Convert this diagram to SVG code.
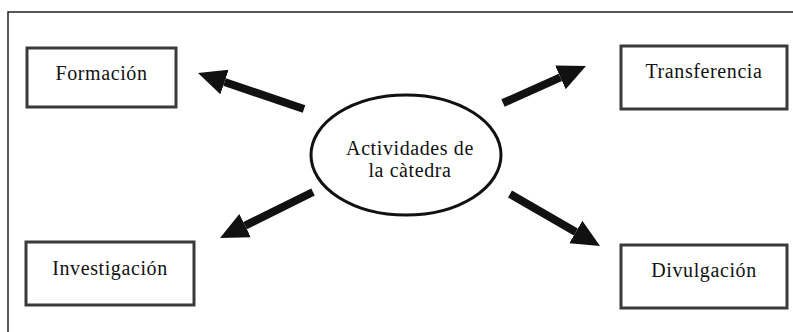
<svg xmlns="http://www.w3.org/2000/svg" width="793" height="332" viewBox="0 0 793 332">
<style>
  .box { fill: #ffffff; stroke: #3a3a3a; stroke-width: 3; }
  .lbl { font-family: "Liberation Serif", "Times New Roman", serif; font-size: 20px; letter-spacing: 0.6px; fill: #111; text-anchor: middle; }
  .arrow { stroke: #111; stroke-width: 8; fill: none; marker-end: url(#head); }
</style>
<defs>
  <marker id="head" markerUnits="userSpaceOnUse" viewBox="0 0 28 28" markerWidth="28" markerHeight="28" refX="0" refY="14" orient="auto">
    <path d="M0,1 L28,14 L0,27 z" fill="#111"/>
  </marker>
</defs>
<rect width="793" height="332" fill="#ffffff"/>
<path d="M8,332 V12 H793" fill="none" stroke="#222" stroke-width="1.5"/>

<g id="formacion">
  <rect class="box" x="27" y="48" width="149" height="59"/>
  <text class="lbl" x="101.5" y="80">Formación</text>
</g>
<g id="transferencia">
  <rect class="box" x="621" y="46" width="166" height="63"/>
  <text class="lbl" x="704" y="78">Transferencia</text>
</g>
<g id="investigacion">
  <rect class="box" x="26" y="242" width="168" height="63"/>
  <text class="lbl" x="110" y="275">Investigación</text>
</g>
<g id="divulgacion">
  <rect class="box" x="621" y="245" width="166" height="63"/>
  <text class="lbl" x="704" y="277">Divulgación</text>
</g>
<g id="actividades">
  <ellipse cx="406" cy="155" rx="95" ry="60" fill="#ffffff" stroke="#111" stroke-width="3"/>
  <text class="lbl" x="410" y="155">Actividades de</text>
  <text class="lbl" x="410" y="177">la càtedra</text>
</g>

<g id="connectors">
  <line class="arrow" x1="304" y1="109" x2="224.5" y2="82"/>
  <line class="arrow" x1="503" y1="103" x2="560.4" y2="77.4"/>
  <line class="arrow" x1="313" y1="192" x2="245.1" y2="225.6"/>
  <line class="arrow" x1="510" y1="194" x2="575.8" y2="232"/>
</g>
</svg>
